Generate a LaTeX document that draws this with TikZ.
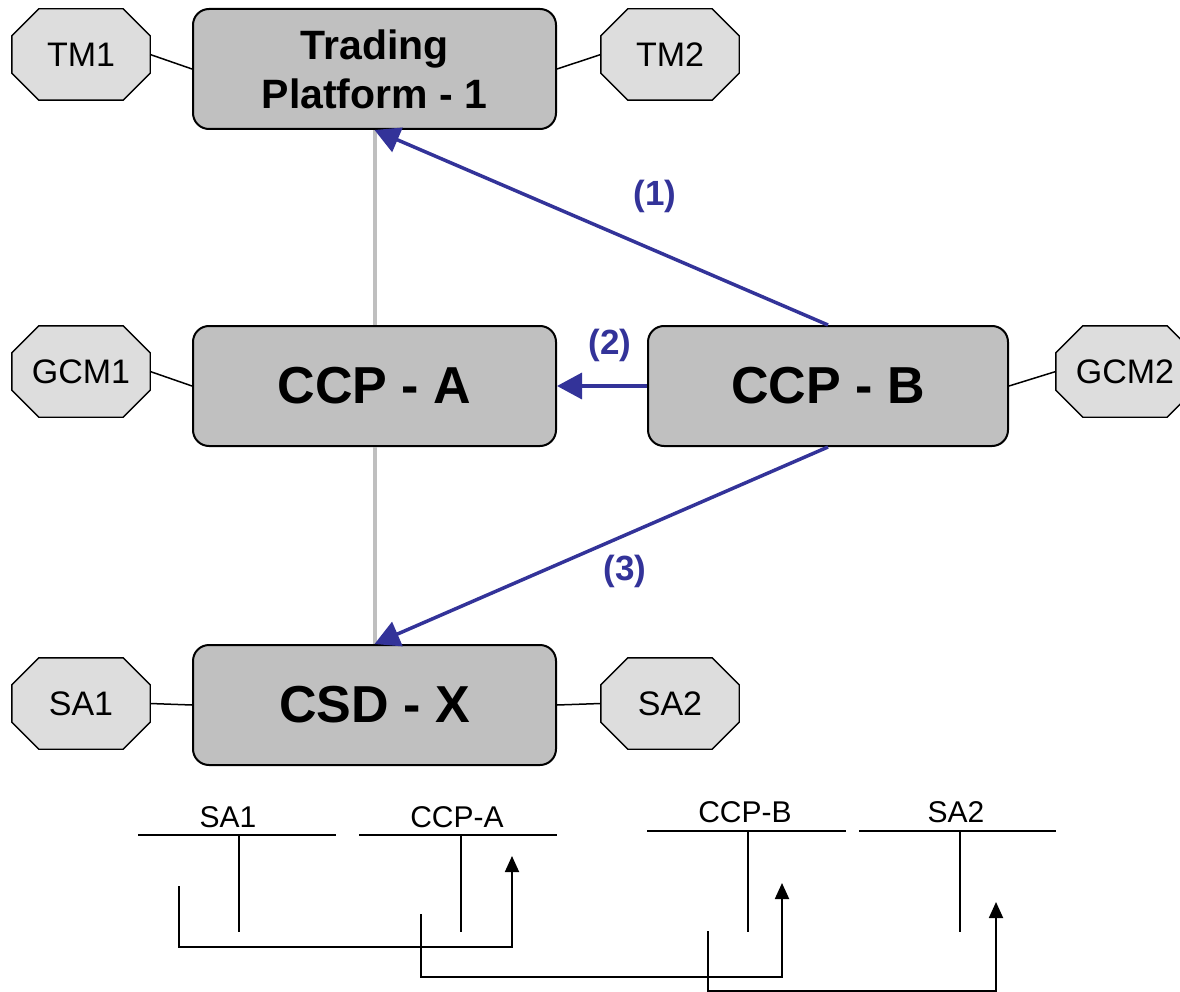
\documentclass[tikz,border=0pt]{standalone}
\usepackage{fontspec}
\setmainfont{Liberation Sans}
\usetikzlibrary{arrows.meta,backgrounds}

\definecolor{boxgray}{HTML}{C0C0C0}
\definecolor{octgray}{HTML}{DDDDDD}
\definecolor{flowblue}{HTML}{333399}
\definecolor{linkgray}{HTML}{BFBFBF}

\tikzset{
  hub/.style={draw=black, line width=2pt, fill=boxgray, rounded corners=16pt,
    minimum width=363pt, minimum height=120pt, inner sep=0pt,
    font=\bfseries\fontsize{52}{56}\selectfont, align=center},
  member/.style={minimum width=138pt, minimum height=91pt, inner sep=0pt,
    font=\fontsize{34}{40}\selectfont},
  octline/.style={fill=octgray, draw=black, line width=1.4pt},
  tie/.style={line width=1.5pt},
  spine/.style={draw=linkgray, line width=4pt},
  flow/.style={draw=flowblue, line width=3.5pt, -{Triangle[length=25pt,width=26pt]}},
  flowlabel/.style={text=flowblue, font=\bfseries\fontsize{35}{40}\selectfont, inner sep=0pt},
  acct/.style={line width=1.8pt},
  acctlabel/.style={font=\fontsize{30}{34}\selectfont, inner sep=0pt},
  move/.style={line width=1.8pt, -{Triangle[length=16pt,width=14pt]}},
}

% octagonal outline around a named node
\newcommand\octoround[1]{%
  \path[octline]
    ([xshift=27pt]#1.north west) -- ([xshift=-27pt]#1.north east)
    -- ([yshift=-27pt]#1.north east) -- ([yshift=27pt]#1.south east)
    -- ([xshift=-27pt]#1.south east) -- ([xshift=27pt]#1.south west)
    -- ([yshift=27pt]#1.south west) -- ([yshift=-27pt]#1.north west) -- cycle;}

\begin{document}
\begin{tikzpicture}[x=1pt,y=-1pt]
  \useasboundingbox (0,0) rectangle (1180,992);

  % main institutions
  \node[hub, font=\bfseries\fontsize{41}{49}\selectfont] (tp) at (374.5,69) {Trading\\Platform - 1};
  \node[hub] (ccpa) at (374.5,386) {CCP - A};
  \node[hub, minimum width=360pt] (ccpb) at (828,386) {CCP - B};
  \node[hub] (csdx) at (374.5,705) {CSD - X};

  % participants
  \node[member] (tm1)  at (81,54.5)    {TM1};
  \node[member] (tm2)  at (670,54.5)   {TM2};
  \node[member] (gcm1) at (81,371.5)   {GCM1};
  \node[member] (gcm2) at (1125,371.5) {GCM2};
  \node[member] (sa1)  at (81,703.5)   {SA1};
  \node[member] (sa2)  at (670,703.5)  {SA2};

  \begin{scope}[on background layer]
    \fill[white] (0,0) rectangle (1180,992);
    \clip (0,0) rectangle (1180,992);
    \foreach \n in {tm1,tm2,gcm1,gcm2,sa1,sa2} {\octoround{\n}}
  \end{scope}

  % participant links
  \draw[tie] (tm1.east) -- (tp.west);
  \draw[tie] (tp.east) -- (tm2.west);
  \draw[tie] (gcm1.east) -- (ccpa.west);
  \draw[tie] (ccpb.east) -- (gcm2.west);
  \draw[tie] (sa1.east) -- (csdx.west);
  \draw[tie] (csdx.east) -- (sa2.west);

  % existing chain
  \draw[spine] (tp.south) -- (ccpa.north);
  \draw[spine] (ccpa.south) -- (csdx.north);

  % interoperability flows
  \draw[flow] (ccpb.north) -- (tp.south);
  \draw[flow] (ccpb.west) -- (ccpa.east);
  \draw[flow] (ccpb.south) -- (csdx.north);
  \node[flowlabel] (l1) at (655,196) {(1)};
  \node[flowlabel] (l2) at (610,345) {(2)};
  \node[flowlabel] (l3) at (625,571) {(3)};

  % T-accounts
  \node[acctlabel] (tsa1)  at (228,817) {SA1};
  \node[acctlabel] (tccpa) at (457,817) {CCP-A};
  \node[acctlabel] (tccpb) at (745,812) {CCP-B};
  \node[acctlabel] (tsa2)  at (956,812) {SA2};

  \draw[acct] (138,835) -- (336,835) (239,835) -- (239,932);
  \draw[acct] (359,835) -- (557,835) (461,835) -- (461,932);
  \draw[acct] (647,831) -- (846,831) (748,831) -- (748,932);
  \draw[acct] (859,831) -- (1056,831) (960,831) -- (960,932);

  % transfers between accounts
  \coordinate (m1s) at (179,886);
  \coordinate (m1c) at (512,947);
  \coordinate (m1e) at (512,856);
  \coordinate (m2s) at (421,914);
  \coordinate (m2c) at (782,977);
  \coordinate (m2e) at (782,883);
  \coordinate (m3s) at (708,931);
  \coordinate (m3c) at (996,991);
  \coordinate (m3e) at (996,902);
  \draw[move] (m1s) |- (m1c) -- (m1e);
  \draw[move] (m2s) |- (m2c) -- (m2e);
  \draw[move] (m3s) |- (m3c) -- (m3e);
\end{tikzpicture}
\end{document}
